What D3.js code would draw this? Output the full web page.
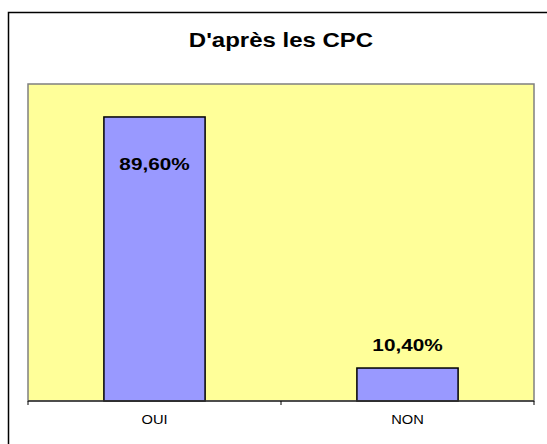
<!DOCTYPE html>
<html>
<head>
<meta charset="utf-8">
<script src="https://cdn.jsdelivr.net/npm/d3@7"></script>
<style>
  body { margin: 0; background: #fff; }
  text { font-family: Arial, "Liberation Sans", sans-serif; }
</style>
</head>
<body>
<div id="chart"></div>
<script>
var categories = ["OUI", "NON"];
var values = [89.6, 10.4];
var valueLabels = ["89,60%", "10,40%"];
var yDomain = [0, 100];

var svgW = 547, svgH = 444;
var plot = { left: 28, right: 534, top: 84, bottom: 401 };

var svg = d3.select("#chart").append("svg")
    .attr("width", svgW)
    .attr("height", svgH);

// outer chart border (cut off on right and bottom)
svg.append("rect")
   .attr("x", 8.5).attr("y", 12.5)
   .attr("width", 700).attr("height", 600)
   .attr("fill", "#fff")
   .attr("stroke", "#000")
   .attr("stroke-width", 1.5);

svg.append("text")
   .attr("transform", "translate(281,47) scale(1.2,1)")
   .attr("text-anchor", "middle")
   .attr("font-size", 20)
   .attr("font-weight", "bold")
   .text("D'après les CPC");

var xScale = d3.scaleBand()
    .domain(categories)
    .range([plot.left, plot.right])
    .paddingInner(0.6)
    .paddingOuter(0.3);

var yScale = d3.scaleLinear()
    .domain(yDomain)
    .range([plot.bottom, plot.top]);

// plot area
svg.append("rect")
   .attr("x", plot.left).attr("y", plot.top)
   .attr("width", plot.right - plot.left)
   .attr("height", plot.bottom - plot.top)
   .attr("fill", "#FFFF99")
   .attr("stroke", "#808080")
   .attr("stroke-width", 1.5);

// bars
svg.selectAll("rect.bar")
   .data(values)
   .enter()
   .append("rect")
   .attr("class", "bar")
   .attr("x", (d, i) => xScale(categories[i]))
   .attr("y", d => yScale(d))
   .attr("width", xScale.bandwidth())
   .attr("height", d => yScale(0) - yScale(d))
   .attr("fill", "#9999FF")
   .attr("stroke", "#000")
   .attr("stroke-width", 1.5);

// x axis: line plus ticks between categories
var step = xScale.step();
var gap = step - xScale.bandwidth();
var tickPos = categories.map(c => xScale(c) - gap / 2);
tickPos.push(xScale(categories[categories.length - 1]) + xScale.bandwidth() + gap / 2);

var axis = svg.append("g");
axis.append("line")
    .attr("x1", plot.left).attr("x2", plot.right)
    .attr("y1", yScale(0)).attr("y2", yScale(0))
    .attr("stroke", "#333")
    .attr("stroke-width", 1.5);
axis.selectAll("line.tick")
    .data(tickPos)
    .enter()
    .append("line")
    .attr("class", "tick")
    .attr("x1", d => d).attr("x2", d => d)
    .attr("y1", yScale(0)).attr("y2", yScale(0) + 4)
    .attr("stroke", "#000");

axis.selectAll("text")
    .data(categories)
    .enter()
    .append("text")
    .attr("transform", d => `translate(${xScale(d) + xScale.bandwidth() / 2},424) scale(1.13,1)`)
    .attr("text-anchor", "middle")
    .attr("font-size", 13)
    .text(d => d);

// data labels
var labelOffset = [53, -17];
svg.selectAll("text.val")
   .data(values)
   .enter()
   .append("text")
   .attr("class", "val")
   .attr("transform", (d, i) => `translate(${xScale(categories[i]) + xScale.bandwidth() / 2},${yScale(d) + labelOffset[i]}) scale(1.22,1)`)
   .attr("text-anchor", "middle")
   .attr("font-size", 17)
   .attr("font-weight", "bold")
   .text((d, i) => valueLabels[i]);
</script>
</body>
</html>
